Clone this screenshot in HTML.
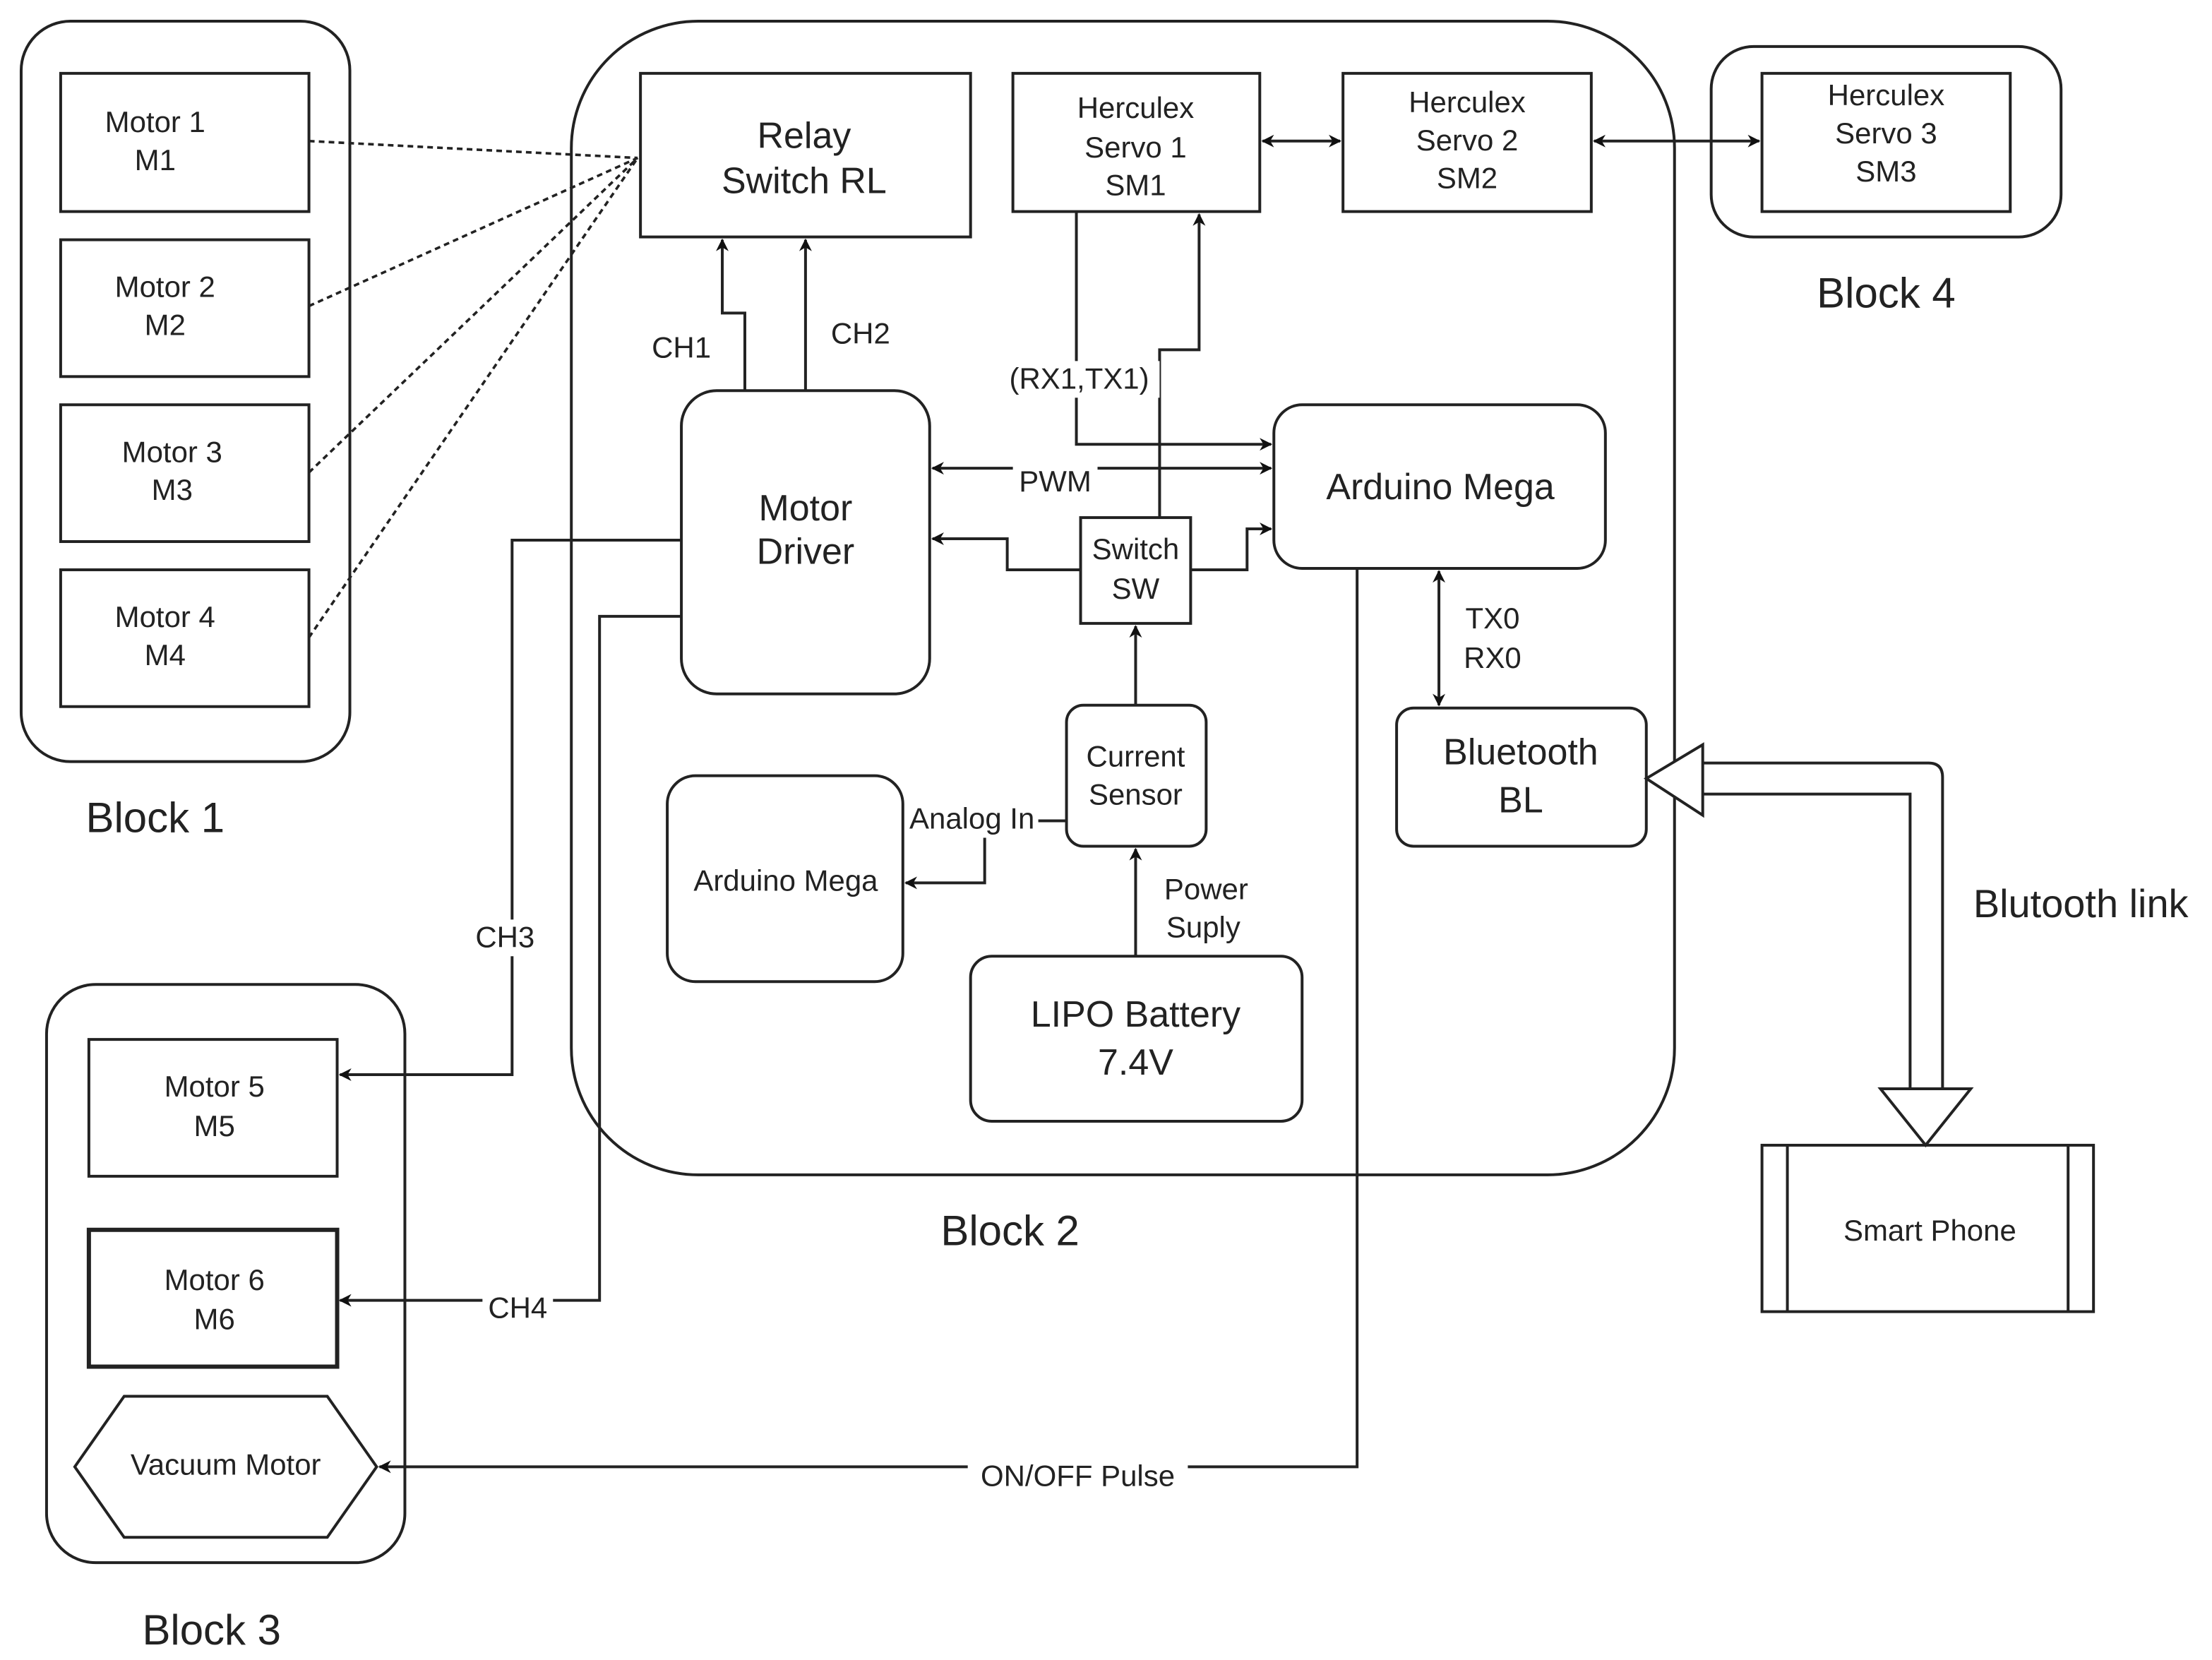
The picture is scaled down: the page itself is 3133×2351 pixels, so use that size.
<!DOCTYPE html>
<html><head><meta charset="utf-8"><style>
html,body{margin:0;padding:0;background:#fff;width:3133px;height:2351px;overflow:hidden}
svg{display:block}
text{font-family:"Liberation Sans",Arial,sans-serif;fill:#222;text-anchor:middle;dominant-baseline:middle}
</style></head><body>
<svg width="3133" height="2351" viewBox="0 0 1568 1177" preserveAspectRatio="none" xmlns="http://www.w3.org/2000/svg">
<defs>
<marker id="a" viewBox="0 0 10 10" refX="9" refY="5" markerWidth="9" markerHeight="9" markerUnits="userSpaceOnUse" orient="auto-start-reverse"><path d="M0,0 L10,5 L0,10 L3,5 z" fill="#111"/></marker>
</defs>
<g fill="none" stroke="#222" stroke-width="2">
<!-- Block1 -->
<rect x="15" y="15" width="233" height="525" rx="35"/>
<rect x="43" y="52" width="176" height="98"/>
<rect x="43" y="170" width="176" height="97"/>
<rect x="43" y="287" width="176" height="97"/>
<rect x="43" y="404" width="176" height="97"/>
<!-- Block2 -->
<rect x="405" y="15" width="782" height="818" rx="90"/>
<rect x="454" y="52" width="234" height="116"/>
<rect x="718" y="52" width="175" height="98"/>
<rect x="952" y="52" width="176" height="98"/>
<rect x="1213" y="33" width="248" height="135" rx="30"/>
<rect x="1249" y="52" width="176" height="98"/>
<rect x="483" y="277" width="176" height="215" rx="25"/>
<rect x="903" y="287" width="235" height="116" rx="20"/>
<rect x="766" y="367" width="78" height="75"/>
<rect x="756" y="500" width="99" height="100" rx="12"/>
<rect x="473" y="550" width="167" height="146" rx="20"/>
<rect x="688" y="678" width="235" height="117" rx="15"/>
<rect x="990" y="502" width="177" height="98" rx="12"/>
<!-- Block3 -->
<rect x="33" y="698" width="254" height="410" rx="35"/>
<rect x="63" y="737" width="176" height="97"/>
<rect x="63" y="872" width="176" height="97" stroke-width="3"/>
<polygon points="53,1040 88,990 232,990 267,1040 232,1090 88,1090"/>
<!-- Smart phone -->
<rect x="1249" y="812" width="235" height="118"/>
<line x1="1267" y1="812" x2="1267" y2="930"/>
<line x1="1466" y1="812" x2="1466" y2="930"/>
<!-- dashed -->
<g stroke-dasharray="4,3" stroke-width="1.8">
<line x1="219" y1="100" x2="452" y2="112"/>
<line x1="219" y1="217" x2="452" y2="112"/>
<line x1="219" y1="335" x2="452" y2="112"/>
<line x1="219" y1="452" x2="452" y2="112"/>
</g>
<!-- connectors -->
<g marker-end="url(#a)">
<path d="M528,277 V222 H512 V170"/>
<path d="M571,277 V170"/>
<line x1="895" y1="100" x2="950" y2="100" marker-start="url(#a)"/>
<line x1="1130" y1="100" x2="1247" y2="100" marker-start="url(#a)"/>
<path d="M763,150 V315 H901"/>
<path d="M822,367 V248 H850 V152"/>
<line x1="661" y1="332" x2="901" y2="332" marker-start="url(#a)"/>
<path d="M766,404 H714 V382 H661"/>
<path d="M844,404 H884 V375 H901"/>
<line x1="805" y1="500" x2="805" y2="444"/>
<path d="M756,582 H698 V626 H642"/>
<line x1="805" y1="678" x2="805" y2="602"/>
<line x1="1020" y1="405" x2="1020" y2="500" marker-start="url(#a)"/>
<path d="M483,383 H363 V762 H241"/>
<path d="M483,437 H425 V922 H241"/>
<path d="M962,403 V1040 H269"/>
</g>
<!-- bluetooth hollow arrow -->
<path d="M1207,541 H1367 Q1377,541 1377,551 V772 M1354,772 V563 H1207"/>
<polygon points="1167,552 1207,528 1207,541 1207,563 1207,578" fill="#fff"/>
<polygon points="1365,812 1333,772 1397,772" fill="#fff"/>
</g>
<rect x="642" y="570" width="94" height="24" fill="#fff"/>
<rect x="718" y="330" width="60" height="24" fill="#fff"/>
<rect x="338" y="652" width="42" height="26" fill="#fff"/>
<rect x="342" y="916" width="50" height="26" fill="#fff"/>
<rect x="686" y="1034" width="156" height="26" fill="#fff"/>
<rect x="708" y="256" width="114" height="26" fill="#fff"/>
<g font-size="21">
<text x="110" y="88">Motor  1</text><text x="110" y="115">M1</text>
<text x="117" y="205">Motor 2</text><text x="117" y="232">M2</text>
<text x="122" y="322">Motor 3</text><text x="122" y="349">M3</text>
<text x="117" y="439">Motor 4</text><text x="117" y="466">M4</text>
<text x="805" y="78">Herculex</text><text x="805" y="106">Servo 1</text><text x="805" y="133">SM1</text>
<text x="1040" y="74">Herculex</text><text x="1040" y="101">Servo 2</text><text x="1040" y="128">SM2</text>
<text x="1337" y="69">Herculex</text><text x="1337" y="96">Servo 3</text><text x="1337" y="123">SM3</text>
<text x="483" y="248">CH1</text><text x="610" y="238">CH2</text>
<text x="765" y="270">(RX1,TX1)</text>
<text x="748" y="343">PWM</text>
<text x="805" y="391">Switch</text><text x="805" y="419">SW</text>
<text x="805" y="538">Current</text><text x="805" y="565">Sensor</text>
<text x="689" y="582">Analog In</text>
<text x="557" y="626">Arduino Mega</text>
<text x="855" y="632">Power</text><text x="853" y="659">Suply</text>
<text x="1058" y="440">TX0</text><text x="1058" y="468">RX0</text>
<text x="358" y="666">CH3</text><text x="367" y="929">CH4</text>
<text x="152" y="772">Motor 5</text><text x="152" y="800">M5</text>
<text x="152" y="909">Motor 6</text><text x="152" y="937">M6</text>
<text x="160" y="1040">Vacuum Motor</text>
<text x="764" y="1048">ON/OFF Pulse</text>
<text x="1368" y="874">Smart Phone</text>
</g>
<g font-size="26">
<text x="570" y="98">Relay</text><text x="570" y="130">Switch RL</text>
<text x="571" y="362">Motor</text><text x="571" y="393">Driver</text>
<text x="1021" y="347">Arduino Mega</text>
<text x="805" y="721">LIPO Battery</text><text x="805" y="755">7.4V</text>
<text x="1078" y="535">Bluetooth</text><text x="1078" y="569">BL</text>
</g>
<g font-size="30">
<text x="110" y="582">Block 1</text>
<text x="716" y="875">Block 2</text>
<text x="150" y="1158">Block 3</text>
<text x="1337" y="210">Block 4</text>
<text x="1475" y="643" font-size="28">Blutooth link</text>
</g>
</svg>
</body></html>
